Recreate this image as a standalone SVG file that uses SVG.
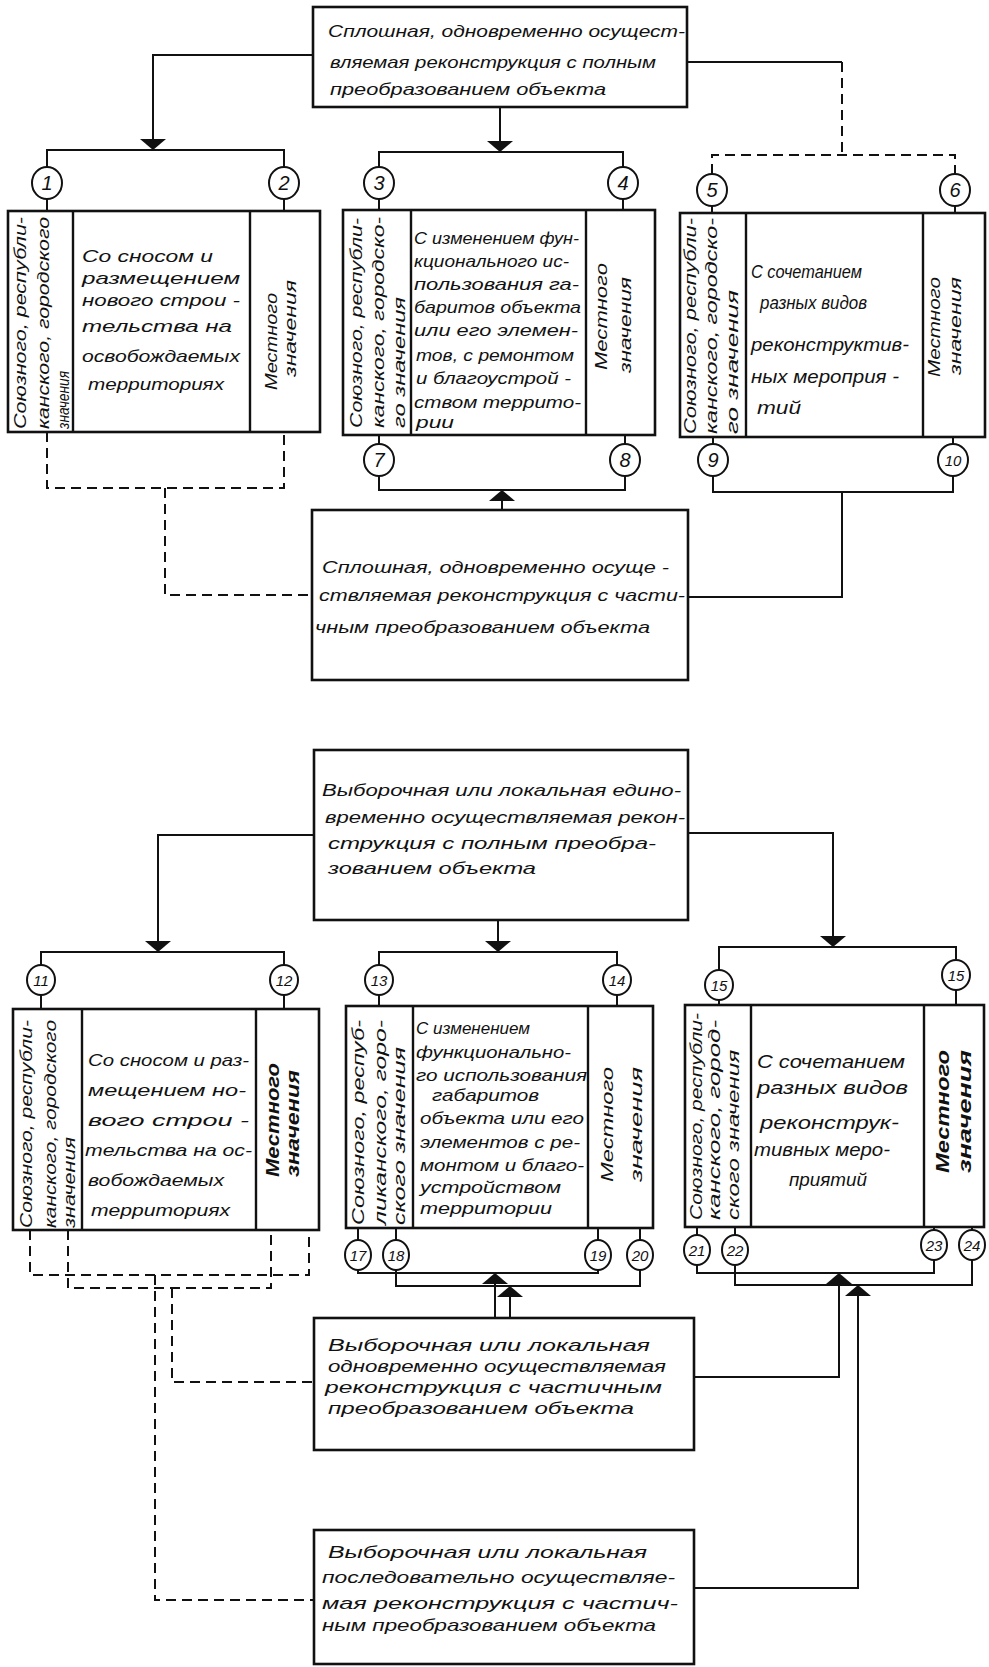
<svg xmlns="http://www.w3.org/2000/svg" width="989" height="1667" viewBox="0 0 989 1667">
<defs>
<marker id="ah" markerUnits="userSpaceOnUse" viewBox="0 0 11 26" markerWidth="11" markerHeight="26" refX="11" refY="13" orient="auto">
<path d="M0,0 L11,13 L0,26 Z" fill="#111"/>
</marker>
</defs>
<style>
.box{fill:#fff;stroke:#111;stroke-width:2.6}
.div{stroke:#111;stroke-width:2.4}
.ln{fill:none;stroke:#111;stroke-width:2}
.dash{stroke-dasharray:10 6}
.arr{marker-end:url(#ah)}
.c{fill:#fff;stroke:#111;stroke-width:2}
.t{font-family:"Liberation Sans",Arial,sans-serif;font-style:italic;font-size:17px;fill:#111}
.b{font-size:18px}
.v{font-family:"Liberation Sans",Arial,sans-serif;font-style:italic;font-size:16px;fill:#111;dominant-baseline:central}
.vb{font-size:18px;font-weight:bold}
.n{font-family:"Liberation Sans",Arial,sans-serif;font-style:italic;font-size:20px;fill:#111;text-anchor:middle;dominant-baseline:central}
.n2{font-size:15px}
</style>

<g id="connectors">
<!-- section 1 top -->
<path class="ln arr" d="M313,55 H153 V150"/>
<path class="ln arr" d="M500,107 V152"/>
<path class="ln" d="M687,62 H842"/>
<path class="ln dash" d="M842,62 V155"/>
<path class="ln dash" d="M712,174 V155 H955 V174"/>
<path class="ln" d="M47,167 V150 H284 V167"/>
<path class="ln" d="M379,167 V152 H623 V167"/>
<path class="ln" d="M47,199 V211 M284,199 V211 M379,199 V210 M623,199 V210 M712,206 V213 M955,206 V213"/>
<!-- section 1 bottom -->
<path class="ln dash" d="M47,432 V488 H284 V432"/>
<path class="ln dash" d="M165,488 V595 H312"/>
<path class="ln" d="M379,435 V444 M625,435 V444 M713,437 V444 M953,437 V444"/>
<path class="ln" d="M379,476 V490 H625 V476"/>
<path class="ln" d="M713,476 V492 H953 V476"/>
<path class="ln arr" d="M502,510 V490"/>
<path class="ln" d="M842,492 V597 H688"/>
<!-- section 2 top -->
<path class="ln arr" d="M314,835 H158 V952"/>
<path class="ln arr" d="M498,920 V952"/>
<path class="ln arr" d="M688,833 H833 V947"/>
<path class="ln" d="M41,965 V952 H284 V965"/>
<path class="ln" d="M379,965 V952 H617 V965"/>
<path class="ln" d="M719,970 V947 H956 V959"/>
<path class="ln" d="M41,995 V1009 M284,995 V1009 M379,995 V1006 M617,995 V1006 M719,1000 V1005 M956,990 V1005"/>
<!-- section 2 bottom -->
<path class="ln dash" d="M30,1230 V1275 H309 V1230"/>
<path class="ln dash" d="M68,1230 V1288 H271 V1230"/>
<path class="ln dash" d="M155,1275 V1600 H314"/>
<path class="ln dash" d="M172,1288 V1382 H314"/>
<path class="ln" d="M358,1228 V1240 M396,1228 V1240 M598,1228 V1240 M640,1228 V1240"/>
<path class="ln" d="M358,1270 V1273 H598 V1270"/>
<path class="ln" d="M396,1270 V1286 H640 V1270"/>
<path class="ln arr" d="M495,1318 V1273"/>
<path class="ln arr" d="M510,1318 V1286"/>
<path class="ln" d="M697,1227 V1235 M735,1227 V1235 M934,1227 V1230 M972,1227 V1230"/>
<path class="ln" d="M697,1265 V1273 H934 V1260"/>
<path class="ln" d="M735,1265 V1285 H972 V1260"/>
<path class="ln arr" d="M694,1377 H839 V1273"/>
<path class="ln arr" d="M694,1588 H858 V1285"/>
</g>

<g id="top1">
<rect class="box" x="313" y="7" width="374" height="100"/>
<text class="t" x="328" y="37" textLength="357" lengthAdjust="spacingAndGlyphs">Сплошная, одновременно осущест-</text>
<text class="t" x="330" y="68" textLength="326" lengthAdjust="spacingAndGlyphs">вляемая реконструкция с полным</text>
<text class="t" x="330" y="95" textLength="276" lengthAdjust="spacingAndGlyphs">преобразованием объекта</text>
</g>

<g id="box1">
<rect class="box" x="8" y="211" width="312" height="221"/>
<path class="div" d="M73,211 V432 M250,211 V432"/>
<text class="v" transform="translate(20,429) rotate(-90)" textLength="212" lengthAdjust="spacingAndGlyphs">Союзного, республи-</text>
<text class="v" transform="translate(43,429) rotate(-90)" textLength="212" lengthAdjust="spacingAndGlyphs">канского, городского</text>
<text class="v" transform="translate(63,429) rotate(-90)" textLength="58" lengthAdjust="spacingAndGlyphs">значения</text>
<text class="t" x="82" y="262" textLength="131" lengthAdjust="spacingAndGlyphs">Со сносом и</text>
<text class="t" x="82" y="284" textLength="158" lengthAdjust="spacingAndGlyphs">размещением</text>
<text class="t" x="82" y="306" textLength="158" lengthAdjust="spacingAndGlyphs">нового строи -</text>
<text class="t" x="82" y="332" textLength="150" lengthAdjust="spacingAndGlyphs">тельства на</text>
<text class="t" x="82" y="362" textLength="158" lengthAdjust="spacingAndGlyphs">освобождаемых</text>
<text class="t" x="88" y="390" textLength="136" lengthAdjust="spacingAndGlyphs">территориях</text>
<text class="v" transform="translate(271,390) rotate(-90)" textLength="97" lengthAdjust="spacingAndGlyphs">Местного</text>
<text class="v" transform="translate(290,377) rotate(-90)" textLength="97" lengthAdjust="spacingAndGlyphs">значения</text>
<ellipse class="c" cx="47" cy="183" rx="15" ry="16"/><text class="n" x="47" y="183">1</text>
<ellipse class="c" cx="284" cy="183" rx="15" ry="16"/><text class="n" x="284" y="183">2</text>
</g>

<g id="box2">
<rect class="box" x="343" y="210" width="312" height="225"/>
<path class="div" d="M411,210 V435 M586,210 V435"/>
<text class="v" transform="translate(356,428) rotate(-90)" textLength="210" lengthAdjust="spacingAndGlyphs">Союзного, республи-</text>
<text class="v" transform="translate(378,428) rotate(-90)" textLength="211" lengthAdjust="spacingAndGlyphs">канского, городско-</text>
<text class="v" transform="translate(399,428) rotate(-90)" textLength="131" lengthAdjust="spacingAndGlyphs">го значения</text>
<text class="t" x="414" y="244" textLength="165" lengthAdjust="spacingAndGlyphs">С изменением фун-</text>
<text class="t" x="414" y="267" textLength="155" lengthAdjust="spacingAndGlyphs">кционального ис-</text>
<text class="t" x="414" y="290" textLength="165" lengthAdjust="spacingAndGlyphs">пользования га-</text>
<text class="t" x="414" y="313" textLength="167" lengthAdjust="spacingAndGlyphs">баритов объекта</text>
<text class="t" x="414" y="336" textLength="164" lengthAdjust="spacingAndGlyphs">или его элемен-</text>
<text class="t" x="416" y="361" textLength="158" lengthAdjust="spacingAndGlyphs">тов, с ремонтом</text>
<text class="t" x="416" y="384" textLength="155" lengthAdjust="spacingAndGlyphs">и благоустрой -</text>
<text class="t" x="414" y="408" textLength="167" lengthAdjust="spacingAndGlyphs">ством террито-</text>
<text class="t" x="416" y="428" textLength="38" lengthAdjust="spacingAndGlyphs">рии</text>
<text class="v" transform="translate(601,370) rotate(-90)" textLength="107" lengthAdjust="spacingAndGlyphs">Местного</text>
<text class="v" transform="translate(625,373) rotate(-90)" textLength="96" lengthAdjust="spacingAndGlyphs">значения</text>
<ellipse class="c" cx="379" cy="183" rx="15" ry="16"/><text class="n" x="379" y="183">3</text>
<ellipse class="c" cx="623" cy="183" rx="15" ry="16"/><text class="n" x="623" y="183">4</text>
<ellipse class="c" cx="379" cy="460" rx="15" ry="16"/><text class="n" x="379" y="460">7</text>
<ellipse class="c" cx="625" cy="460" rx="15" ry="16"/><text class="n" x="625" y="460">8</text>
</g>

<g id="box3">
<rect class="box" x="680" y="213" width="305" height="224"/>
<path class="div" d="M746,213 V437 M923,213 V437"/>
<text class="v" transform="translate(690,434) rotate(-90)" textLength="216" lengthAdjust="spacingAndGlyphs">Союзного, республи-</text>
<text class="v" transform="translate(711,434) rotate(-90)" textLength="216" lengthAdjust="spacingAndGlyphs">канского, городско-</text>
<text class="v" transform="translate(732,434) rotate(-90)" textLength="144" lengthAdjust="spacingAndGlyphs">го значения</text>
<text class="t b" x="751" y="278" textLength="111" lengthAdjust="spacingAndGlyphs">С сочетанием</text>
<text class="t b" x="760" y="309" textLength="107" lengthAdjust="spacingAndGlyphs">разных видов</text>
<text class="t b" x="751" y="351" textLength="158" lengthAdjust="spacingAndGlyphs">реконструктив-</text>
<text class="t b" x="751" y="383" textLength="148" lengthAdjust="spacingAndGlyphs">ных мероприя -</text>
<text class="t b" x="757" y="414" textLength="44" lengthAdjust="spacingAndGlyphs">тий</text>
<text class="v" transform="translate(934,377) rotate(-90)" textLength="100" lengthAdjust="spacingAndGlyphs">Местного</text>
<text class="v" transform="translate(955,375) rotate(-90)" textLength="98" lengthAdjust="spacingAndGlyphs">значения</text>
<ellipse class="c" cx="712" cy="190" rx="15" ry="16"/><text class="n" x="712" y="190">5</text>
<ellipse class="c" cx="955" cy="190" rx="15" ry="16"/><text class="n" x="955" y="190">6</text>
<ellipse class="c" cx="713" cy="460" rx="15" ry="16"/><text class="n" x="713" y="460">9</text>
<ellipse class="c" cx="953" cy="460" rx="15" ry="16"/><text class="n n2" x="953" y="460">10</text>
</g>

<g id="box4">
<rect class="box" x="312" y="510" width="376" height="170"/>
<text class="t" x="322" y="573" textLength="347" lengthAdjust="spacingAndGlyphs">Сплошная, одновременно осуще -</text>
<text class="t" x="319" y="601" textLength="366" lengthAdjust="spacingAndGlyphs">ствляемая реконструкция с части-</text>
<text class="t" x="315" y="633" textLength="335" lengthAdjust="spacingAndGlyphs">чным преобразованием объекта</text>
</g>

<g id="top2">
<rect class="box" x="314" y="750" width="374" height="170"/>
<text class="t" x="322" y="796" textLength="359" lengthAdjust="spacingAndGlyphs">Выборочная или локальная едино-</text>
<text class="t" x="325" y="823" textLength="360" lengthAdjust="spacingAndGlyphs">временно осуществляемая рекон-</text>
<text class="t" x="328" y="849" textLength="328" lengthAdjust="spacingAndGlyphs">струкция с полным преобра-</text>
<text class="t" x="328" y="874" textLength="208" lengthAdjust="spacingAndGlyphs">зованием объекта</text>
</g>

<g id="box5">
<rect class="box" x="13" y="1009" width="306" height="221"/>
<path class="div" d="M82,1009 V1230 M256,1009 V1230"/>
<text class="v" transform="translate(26,1228) rotate(-90)" textLength="208" lengthAdjust="spacingAndGlyphs">Союзного, республи-</text>
<text class="v" transform="translate(50,1228) rotate(-90)" textLength="208" lengthAdjust="spacingAndGlyphs">канского, городского</text>
<text class="v" transform="translate(69,1228) rotate(-90)" textLength="91" lengthAdjust="spacingAndGlyphs">значения</text>
<text class="t" x="88" y="1066" textLength="161" lengthAdjust="spacingAndGlyphs">Со сносом и раз-</text>
<text class="t" x="88" y="1096" textLength="158" lengthAdjust="spacingAndGlyphs">мещением но-</text>
<text class="t" x="88" y="1126" textLength="161" lengthAdjust="spacingAndGlyphs">вого строи -</text>
<text class="t" x="85" y="1156" textLength="167" lengthAdjust="spacingAndGlyphs">тельства на ос-</text>
<text class="t" x="88" y="1186" textLength="136" lengthAdjust="spacingAndGlyphs">вобождаемых</text>
<text class="t" x="91" y="1216" textLength="139" lengthAdjust="spacingAndGlyphs">территориях</text>
<text class="v vb" transform="translate(273,1177) rotate(-90)" textLength="114" lengthAdjust="spacingAndGlyphs">Местного</text>
<text class="v vb" transform="translate(293,1177) rotate(-90)" textLength="107" lengthAdjust="spacingAndGlyphs">значения</text>
<ellipse class="c" cx="41" cy="980" rx="14" ry="15"/><text class="n n2" x="41" y="980">11</text>
<ellipse class="c" cx="284" cy="980" rx="14" ry="15"/><text class="n n2" x="284" y="980">12</text>
</g>

<g id="box6">
<rect class="box" x="346" y="1006" width="307" height="222"/>
<path class="div" d="M413,1006 V1228 M588,1006 V1228"/>
<text class="v" transform="translate(358,1225) rotate(-90)" textLength="205" lengthAdjust="spacingAndGlyphs">Союзного, респуб-</text>
<text class="v" transform="translate(380,1225) rotate(-90)" textLength="205" lengthAdjust="spacingAndGlyphs">ликанского, горо-</text>
<text class="v" transform="translate(399,1225) rotate(-90)" textLength="178" lengthAdjust="spacingAndGlyphs">ского значения</text>
<text class="t" x="416" y="1034" textLength="114" lengthAdjust="spacingAndGlyphs">С изменением</text>
<text class="t" x="416" y="1058" textLength="155" lengthAdjust="spacingAndGlyphs">функционально-</text>
<text class="t" x="416" y="1081" textLength="171" lengthAdjust="spacingAndGlyphs">го использования</text>
<text class="t" x="432" y="1101" textLength="107" lengthAdjust="spacingAndGlyphs">габаритов</text>
<text class="t" x="420" y="1124" textLength="164" lengthAdjust="spacingAndGlyphs">объекта или его</text>
<text class="t" x="420" y="1148" textLength="160" lengthAdjust="spacingAndGlyphs">элементов с ре-</text>
<text class="t" x="420" y="1171" textLength="164" lengthAdjust="spacingAndGlyphs">монтом и благо-</text>
<text class="t" x="420" y="1193" textLength="141" lengthAdjust="spacingAndGlyphs">устройством</text>
<text class="t" x="420" y="1214" textLength="132" lengthAdjust="spacingAndGlyphs">территории</text>
<text class="v" transform="translate(607,1182) rotate(-90)" textLength="115" lengthAdjust="spacingAndGlyphs">Местного</text>
<text class="v" transform="translate(636,1182) rotate(-90)" textLength="115" lengthAdjust="spacingAndGlyphs">значения</text>
<ellipse class="c" cx="379" cy="980" rx="14" ry="15"/><text class="n n2" x="379" y="980">13</text>
<ellipse class="c" cx="617" cy="980" rx="14" ry="15"/><text class="n n2" x="617" y="980">14</text>
<ellipse class="c" cx="358" cy="1255" rx="13" ry="15"/><text class="n n2" x="358" y="1255">17</text>
<ellipse class="c" cx="396" cy="1255" rx="13" ry="15"/><text class="n n2" x="396" y="1255">18</text>
<ellipse class="c" cx="598" cy="1255" rx="13" ry="15"/><text class="n n2" x="598" y="1255">19</text>
<ellipse class="c" cx="640" cy="1255" rx="13" ry="15"/><text class="n n2" x="640" y="1255">20</text>
</g>

<g id="box7">
<rect class="box" x="685" y="1005" width="299" height="222"/>
<path class="div" d="M751,1005 V1227 M924,1005 V1227"/>
<text class="v" transform="translate(696,1220) rotate(-90)" textLength="207" lengthAdjust="spacingAndGlyphs">Союзного, республи-</text>
<text class="v" transform="translate(714,1220) rotate(-90)" textLength="200" lengthAdjust="spacingAndGlyphs">канского, город-</text>
<text class="v" transform="translate(733,1220) rotate(-90)" textLength="170" lengthAdjust="spacingAndGlyphs">ского значения</text>
<text class="t b" x="757" y="1068" textLength="148" lengthAdjust="spacingAndGlyphs">С сочетанием</text>
<text class="t b" x="757" y="1094" textLength="151" lengthAdjust="spacingAndGlyphs">разных видов</text>
<text class="t b" x="760" y="1129" textLength="139" lengthAdjust="spacingAndGlyphs">реконструк-</text>
<text class="t b" x="754" y="1156" textLength="136" lengthAdjust="spacingAndGlyphs">тивных меро-</text>
<text class="t b" x="789" y="1186" textLength="78" lengthAdjust="spacingAndGlyphs">приятий</text>
<text class="v vb" transform="translate(943,1173) rotate(-90)" textLength="123" lengthAdjust="spacingAndGlyphs">Местного</text>
<text class="v vb" transform="translate(965,1173) rotate(-90)" textLength="123" lengthAdjust="spacingAndGlyphs">значения</text>
<ellipse class="c" cx="719" cy="985" rx="14" ry="15"/><text class="n n2" x="719" y="985">15</text>
<ellipse class="c" cx="956" cy="975" rx="14" ry="15"/><text class="n n2" x="956" y="975">15</text>
<ellipse class="c" cx="697" cy="1250" rx="13" ry="15"/><text class="n n2" x="697" y="1250">21</text>
<ellipse class="c" cx="735" cy="1250" rx="13" ry="15"/><text class="n n2" x="735" y="1250">22</text>
<ellipse class="c" cx="934" cy="1245" rx="13" ry="15"/><text class="n n2" x="934" y="1245">23</text>
<ellipse class="c" cx="972" cy="1245" rx="13" ry="15"/><text class="n n2" x="972" y="1245">24</text>
</g>

<g id="box8">
<rect class="box" x="314" y="1318" width="380" height="132"/>
<text class="t" x="328" y="1351" textLength="322" lengthAdjust="spacingAndGlyphs">Выборочная или локальная</text>
<text class="t" x="328" y="1372" textLength="338" lengthAdjust="spacingAndGlyphs">одновременно осуществляемая</text>
<text class="t" x="325" y="1393" textLength="337" lengthAdjust="spacingAndGlyphs">реконструкция с частичным</text>
<text class="t" x="328" y="1414" textLength="306" lengthAdjust="spacingAndGlyphs">преобразованием объекта</text>
</g>

<g id="box9">
<rect class="box" x="314" y="1530" width="380" height="134"/>
<text class="t" x="328" y="1558" textLength="319" lengthAdjust="spacingAndGlyphs">Выборочная или локальная</text>
<text class="t" x="322" y="1583" textLength="353" lengthAdjust="spacingAndGlyphs">последовательно осуществляе-</text>
<text class="t" x="322" y="1609" textLength="356" lengthAdjust="spacingAndGlyphs">мая реконструкция с частич-</text>
<text class="t" x="322" y="1631" textLength="334" lengthAdjust="spacingAndGlyphs">ным преобразованием объекта</text>
</g>
</svg>
